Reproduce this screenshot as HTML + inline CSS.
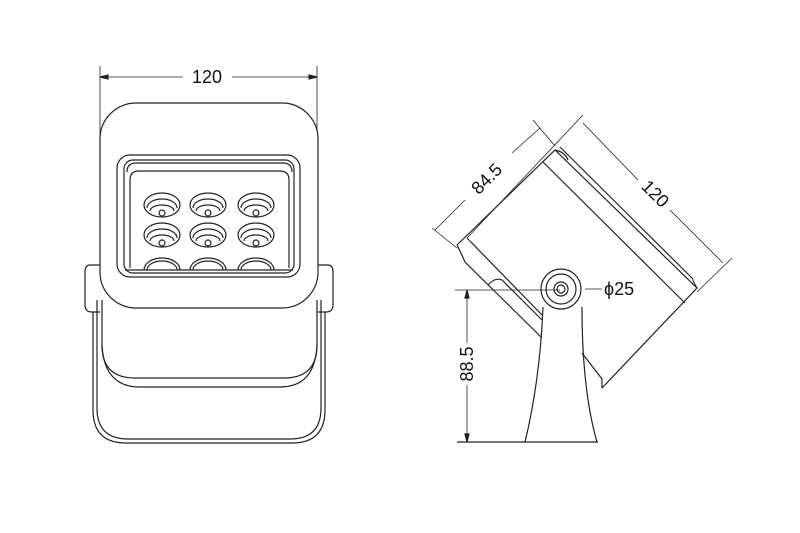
<!DOCTYPE html><html><head><style>body{margin:0;background:#fff}svg{display:block}text{font-family:"Liberation Sans",sans-serif;font-size:18px;fill:#111;stroke:none}</style></head><body>
<svg width="800" height="533" viewBox="0 0 800 533" fill="none" stroke="#222" stroke-width="1.2">
<defs>
<g id="led"><ellipse cx="0" cy="0" rx="18" ry="12"/><path d="M-15 3 A15 9 0 0 1 15 3"/><path d="M-12 6 A12 6 0 0 1 12 6"/><circle cx="0" cy="8" r="3"/></g>
</defs>
<!-- front view dims -->
<line x1="100" y1="66" x2="100" y2="160" stroke-width="0.8"/>
<line x1="317" y1="66" x2="317" y2="160" stroke-width="0.8"/>
<line x1="100" y1="77" x2="183" y2="77" stroke-width="0.8"/>
<line x1="232" y1="77" x2="317" y2="77" stroke-width="0.8"/>
<path d="M100 77 l8 -2 v4z M317 77 l-8 -2 v4z" fill="#222"/>
<text x="207" y="83" text-anchor="middle">120</text>
<!-- bracket -->
<path d="M93 312 V410 Q93 443 126 443 H292 Q325 443 325 410 V312"/>
<path d="M97 300 V408 Q97 439 128 439 H290 Q321 439 321 408 V300"/>
<path d="M100 265 H90 Q85 265 85 272 V305 Q85 312 92 312 H100"/>
<path d="M318 265 H328 Q333 265 333 272 V305 Q333 312 326 312 H318"/>
<!-- lower body -->
<path d="M102 300 V345 Q102 378 135 378 H284 Q317 378 317 345 V300"/>
<path d="M102 345 Q104 387 140 387 H280 Q315 387 317 345"/>
<!-- main body -->
<rect x="100" y="103" width="218" height="205" rx="36" fill="#fff"/>
<rect x="117" y="155" width="183" height="122" rx="13"/>
<rect x="124" y="160" width="170" height="113" rx="9"/>
<path d="M127 172 Q127 163 136 163 H283 Q292 163 292 172"/>
<path d="M130 268 V180 Q130 171 139 171 H280 Q289 171 289 180 V268"/>
<line x1="125" y1="270" x2="293" y2="270"/>
<use href="#led" x="162" y="205"/><use href="#led" x="208" y="205"/><use href="#led" x="256" y="205"/>
<use href="#led" x="162" y="235"/><use href="#led" x="208" y="235"/><use href="#led" x="256" y="235"/>
<path d="M144 270 A18 12 0 0 1 180 270 M147 270 A15 9 0 0 1 177 270 M190 270 A18 12 0 0 1 226 270 M193 270 A15 9 0 0 1 223 270 M238 270 A18 12 0 0 1 274 270 M241 270 A15 9 0 0 1 271 270"/>
<!-- side view body -->
<path d="M467 238 L583 115" stroke-width="0.8"/>
<path d="M457 245 L555 150 L697 288 L602 388" />
<path d="M457 245 Q462 255 465 262 L542 338"/>
<path d="M467 238 L542 315"/>
<path d="M543 162 L685 303"/>
<path d="M560 147 L693 279"/>
<path d="M555 150 Q565 152 568 160 M697 288 Q692 280 693 279"/>
<path d="M488 285 Q495 277 502 280 L542 320"/>
<path d="M582 353 L602 379 L602 388"/>
<!-- 84.5 dim -->
<line x1="432" y1="228" x2="457" y2="248" stroke-width="0.8"/>
<line x1="533" y1="120" x2="555" y2="146" stroke-width="0.8"/>
<line x1="435" y1="230" x2="465" y2="200" stroke-width="0.8"/>
<line x1="512" y1="153" x2="540" y2="128" stroke-width="0.8"/>
<text transform="translate(491,183) rotate(-45)" text-anchor="middle">84.5</text>
<!-- 120 dim -->
<line x1="583" y1="123" x2="638" y2="180" stroke-width="0.8"/>
<line x1="670" y1="210" x2="723" y2="263" stroke-width="0.8"/>
<line x1="732" y1="258" x2="697" y2="292" stroke-width="0.8"/>
<text transform="translate(651,198) rotate(45)" text-anchor="middle">120</text>
<!-- stand -->
<path d="M543 307 Q540 380 525 442 M582 307 Q582 390 597 442" fill="none"/>
<circle cx="561" cy="289" r="20" fill="#fff"/>
<circle cx="561" cy="289" r="15"/>
<circle cx="561" cy="289" r="7"/>
<circle cx="561" cy="289" r="4"/>
<line x1="457" y1="442" x2="598" y2="442"/>
<!-- 88.5 dim -->
<line x1="455" y1="290" x2="560" y2="290" stroke-width="0.8"/>
<line x1="467" y1="290" x2="467" y2="343" stroke-width="0.8"/>
<line x1="467" y1="385" x2="467" y2="442" stroke-width="0.8"/>
<path d="M467 290 l-2 8 h4z M467 442 l-2 -8 h4z" fill="#222"/>
<text transform="translate(473,364) rotate(-90)" text-anchor="middle">88.5</text>
<line x1="585" y1="289" x2="602" y2="289" stroke-width="0.8"/>
<text x="604" y="295">ϕ25</text>
</svg>
</body></html>
